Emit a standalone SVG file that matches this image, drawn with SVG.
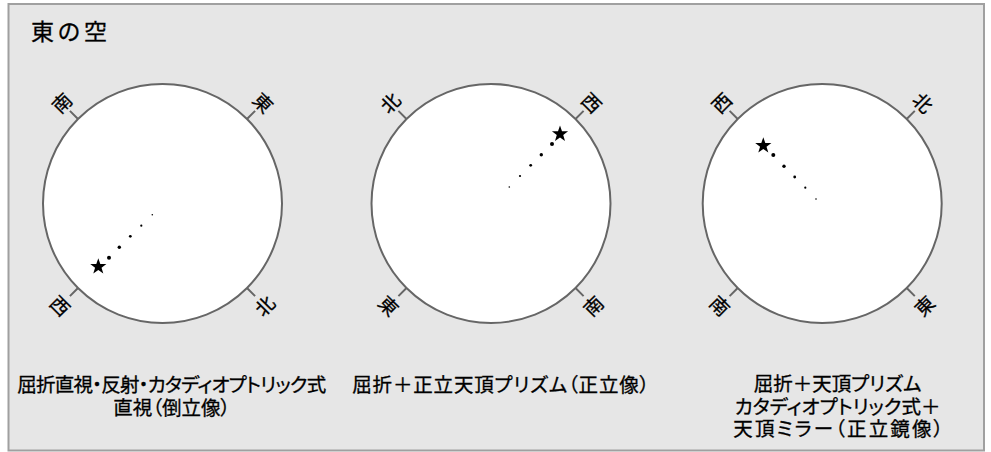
<svg xmlns="http://www.w3.org/2000/svg" width="991" height="452" viewBox="0 0 991 452">
  <style>
    .frame { fill: #e6e6e6; stroke: #a0a0a0; stroke-width: 2; }
    .lens { fill: #ffffff; stroke: #666666; stroke-width: 2; }
    .tick { stroke: #666666; stroke-width: 2; fill: none; }
    .dir { font-family: "Noto Sans CJK JP", "Noto Sans", sans-serif; font-size: 19px; fill: #000; stroke: #000; stroke-width: 0.3; text-anchor: middle; dominant-baseline: central; }
    .cap { font-family: "Noto Sans CJK JP", "Noto Sans", sans-serif; font-size: 19.5px; fill: #000; stroke: #000; stroke-width: 0.3; text-anchor: middle; font-feature-settings: "palt"; }
    .title { font-family: "Noto Sans CJK JP", "Noto Sans", sans-serif; font-size: 23px; fill: #000; stroke: #000; stroke-width: 0.3; letter-spacing: 3.5px; }
    .dot { fill: #000; }
  </style>
  <defs>
    <path id="star" d="M0,-8.5 L2,-2.75 L8.08,-2.63 L3.23,1.05 L5,6.88 L0,3.4 L-5,6.88 L-3.23,1.05 L-8.08,-2.63 L-2,-2.75 Z" fill="#000"/>
  </defs>

  <rect class="frame" x="8.5" y="4" width="975.5" height="446.5"/>
  <text class="title" x="31" y="40">東の空</text>

  <g id="panel1">
    <circle class="lens" cx="162.5" cy="203.5" r="119.5"/>
    <path class="tick" d="M78,119 L69.9,110.9 M247,119 L255.1,110.9 M78,288 L69.9,296.1 M247,288 L255.1,296.1"/>
    <text class="dir" transform="translate(61,102) rotate(-45)">南</text>
    <text class="dir" transform="translate(264,102) rotate(45)">東</text>
    <text class="dir" transform="translate(61,305) rotate(45)">西</text>
    <text class="dir" transform="translate(264,305) rotate(-45)">北</text>
    <circle class="dot" cx="152.3" cy="214.7" r="0.8"/>
    <circle class="dot" cx="141.3" cy="225.7" r="1.1"/>
    <circle class="dot" cx="130.3" cy="236.3" r="1.4"/>
    <circle class="dot" cx="119.3" cy="247.3" r="1.7"/>
    <circle class="dot" cx="109" cy="257.7" r="2"/>
    <use href="#star" transform="translate(98.3,266.7)"/>
    <text class="cap" x="171.7" y="392" textLength="309" lengthAdjust="spacing">屈折直視・反射・カタディオプトリック式</text>
    <text class="cap" x="171.7" y="414.5">直視（倒立像）</text>
  </g>

  <g id="panel2">
    <circle class="lens" cx="491" cy="203.5" r="119.5"/>
    <path class="tick" d="M406.5,119 L398.4,110.9 M575.5,119 L583.6,110.9 M406.5,288 L398.4,296.1 M575.5,288 L583.6,296.1"/>
    <text class="dir" transform="translate(389.5,102) rotate(-45)">北</text>
    <text class="dir" transform="translate(592.5,102) rotate(45)">西</text>
    <text class="dir" transform="translate(389.5,305) rotate(45)">東</text>
    <text class="dir" transform="translate(592.5,305) rotate(-45)">南</text>
    <circle class="dot" cx="509.3" cy="187" r="0.8"/>
    <circle class="dot" cx="520" cy="176" r="1.1"/>
    <circle class="dot" cx="530.7" cy="165.3" r="1.4"/>
    <circle class="dot" cx="541.3" cy="154.7" r="1.7"/>
    <circle class="dot" cx="552" cy="144" r="2"/>
    <use href="#star" transform="translate(560,134)"/>
    <text class="cap" x="500.8" y="392" textLength="297" lengthAdjust="spacing">屈折＋正立天頂プリズム（正立像）</text>
  </g>

  <g id="panel3">
    <circle class="lens" cx="822.2" cy="203.5" r="119.5"/>
    <path class="tick" d="M737.7,119 L729.6,110.9 M906.7,119 L914.8,110.9 M737.7,288 L729.6,296.1 M906.7,288 L914.8,296.1"/>
    <text class="dir" transform="translate(720.7,102) rotate(-45)">西</text>
    <text class="dir" transform="translate(923.7,102) rotate(45)">北</text>
    <text class="dir" transform="translate(720.7,305) rotate(45)">南</text>
    <text class="dir" transform="translate(923.7,305) rotate(-45)">東</text>
    <circle class="dot" cx="816" cy="199" r="0.8"/>
    <circle class="dot" cx="805.3" cy="187.7" r="1.1"/>
    <circle class="dot" cx="794.7" cy="177" r="1.4"/>
    <circle class="dot" cx="784" cy="166.3" r="1.7"/>
    <circle class="dot" cx="773.3" cy="155" r="2"/>
    <use href="#star" transform="translate(763.3,145.7)"/>
    <text class="cap" x="837.5" y="391">屈折＋天頂プリズム</text>
    <text class="cap" x="837.5" y="413.5">カタディオプトリック式＋</text>
    <text class="cap" x="838.3" y="436" textLength="210" lengthAdjust="spacing">天頂ミラー（正立鏡像）</text>
  </g>
</svg>
